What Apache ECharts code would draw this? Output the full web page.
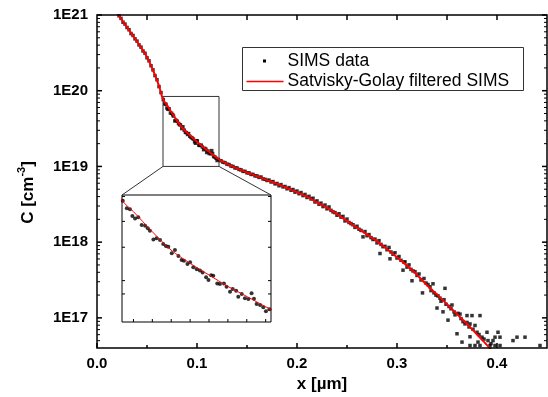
<!DOCTYPE html>
<html><head><meta charset="utf-8">
<script src="https://cdn.jsdelivr.net/npm/echarts@6/dist/echarts.min.js"></script>
<style>html,body{margin:0;padding:0;background:#fff}#c{width:548px;height:397px}</style>
</head><body><div id="c"></div>
<script>
// ---------- axis values ----------
const xRange = [0, 0.45];
const yRange = [4e16, 1.0000001e21];
const xTickLabels = [0, 0.1, 0.2, 0.3, 0.4];
const xMinorTicks = [0.05, 0.15, 0.25, 0.35];
const xTopTicks = [0.05, 0.1, 0.15, 0.2, 0.25, 0.3, 0.35, 0.4];
const yDecades = [1e17, 1e18, 1e19, 1e20, 1e21];
const yMinorTicks = [5e16, 6e16, 7e16, 8e16, 9e16,
  2e17, 3e17, 4e17, 5e17, 6e17, 7e17, 8e17, 9e17,
  2e18, 3e18, 4e18, 5e18, 6e18, 7e18, 8e18, 9e18,
  2e19, 3e19, 4e19, 5e19, 6e19, 7e19, 8e19, 9e19,
  2e20, 3e20, 4e20, 5e20, 6e20, 7e20, 8e20, 9e20];
// zoomed region shown in the inset
const zoomX = [0.066, 0.122];
const zoomY = [1e19, 8.4e19];
const insetXTicks = [0.0703, 0.0774, 0.0845, 0.0916, 0.0987, 0.1058, 0.1129, 0.12];
const insetYTicks = [1.6e19, 2e19, 3.5e19, 5.4e19, 8.2e19];

// ---------- data: [x (µm), log10 C] ----------
const simsPoints = [
[0.022,20.99],[0.024,20.955],[0.026,20.905],[0.028,20.88],[0.030,20.835],[0.032,20.805],[0.034,20.755],[0.036,20.73],
[0.038,20.685],[0.040,20.655],[0.042,20.605],[0.044,20.575],[0.046,20.525],[0.048,20.495],[0.050,20.435],[0.052,20.395],
[0.054,20.33],[0.056,20.275],[0.058,20.2],[0.060,20.145],[0.062,20.055],[0.064,19.975],
[0.0663,19.883],[0.0678,19.827],[0.0690,19.820],[0.0699,19.771],[0.0709,19.754],[0.0721,19.762],[0.0734,19.706],[0.0747,19.701],
[0.0757,19.682],[0.0765,19.665],[0.0778,19.601],[0.0790,19.609],[0.0803,19.597],[0.0815,19.568],[0.0825,19.553],[0.0834,19.548],
[0.0847,19.500],[0.0859,19.524],[0.0872,19.480],[0.0884,19.451],[0.0893,19.446],[0.0906,19.422],[0.0916,19.434],[0.0928,19.398],
[0.0941,19.383],[0.0953,19.374],[0.0963,19.361],[0.0976,19.325],[0.0985,19.306],[0.0995,19.340],[0.1003,19.337],[0.1018,19.281],
[0.1028,19.277],[0.1043,19.281],[0.1053,19.257],[0.1066,19.221],[0.1076,19.240],[0.1089,19.228],[0.1097,19.184],[0.1110,19.204],
[0.1122,19.172],[0.1135,19.167],[0.1147,19.209],[0.1156,19.170],[0.1166,19.131],[0.1179,19.124],[0.1191,19.107],[0.1201,19.078],
[0.1214,19.092],
[0.124,19.075],[0.126,19.055],[0.128,19.05],[0.130,19.03],[0.132,19.025],[0.134,19.005],[0.136,19.0],[0.138,18.98],
[0.140,18.98],[0.142,18.96],[0.144,18.955],[0.146,18.935],[0.148,18.935],[0.150,18.915],[0.152,18.915],[0.154,18.895],
[0.156,18.895],[0.158,18.875],[0.160,18.875],[0.162,18.855],[0.164,18.86],[0.166,18.835],[0.168,18.83],[0.170,18.815],
[0.172,18.82],[0.174,18.795],[0.176,18.8],[0.178,18.77],[0.180,18.775],[0.182,18.745],[0.184,18.76],[0.186,18.73],
[0.188,18.735],[0.190,18.705],[0.192,18.72],[0.194,18.685],[0.196,18.695],[0.198,18.66],[0.200,18.675],[0.202,18.64],
[0.204,18.655],[0.206,18.615],[0.208,18.63],[0.210,18.59],[0.212,18.605],[0.214,18.57],[0.216,18.58],[0.218,18.53],
[0.220,18.545],[0.222,18.50],[0.224,18.515],[0.226,18.47],[0.228,18.49],[0.230,18.44],[0.232,18.465],[0.234,18.42],
[0.236,18.40],[0.238,18.39],[0.240,18.355],[0.242,18.375],[0.244,18.33],[0.246,18.34],[0.248,18.28],[0.250,18.305],
[0.252,18.26],[0.254,18.245],[0.256,18.23],[0.258,18.195],[0.260,18.21],[0.262,18.17],[0.264,18.155],[0.266,18.07],
[0.268,18.14],[0.270,18.085],[0.272,18.10],[0.274,18.06],[0.276,18.035],[0.278,18.04],[0.280,17.99],[0.282,18.02],
[0.283,17.85],[0.284,17.97],[0.286,17.94],[0.288,17.945],[0.290,17.90],[0.292,17.93],[0.293,17.78],[0.294,17.87],
[0.296,17.84],[0.298,17.86],[0.300,17.79],[0.302,17.81],[0.304,17.76],[0.306,17.63],[0.307,17.735],[0.308,17.74],
[0.310,17.67],[0.312,17.70],[0.314,17.64],[0.315,17.49],[0.316,17.62],[0.318,17.61],
[0.320,17.56],[0.322,17.58],[0.324,17.50],[0.3255,17.33],[0.327,17.52],[0.329,17.46],[0.331,17.44],[0.333,17.41],
[0.334,17.36],[0.336,17.45],[0.337,17.33],[0.339,17.30],[0.340,17.13],[0.341,17.29],[0.343,17.26],[0.344,17.22],
[0.346,17.08],[0.347,17.24],[0.348,17.39],[0.349,17.18],[0.351,16.97],[0.352,17.15],[0.354,17.12],[0.355,17.17],
[0.357,17.08],[0.358,17.04],[0.360,16.79],[0.361,17.06],[0.363,17.05],[0.364,16.99],[0.365,16.68],[0.366,16.95],
[0.368,16.92],[0.370,17.03],[0.370,16.94],[0.372,16.88],[0.373,16.75],[0.373,16.92],[0.373,16.635],[0.375,17.03],
[0.376,16.85],[0.378,16.90],[0.378,16.635],[0.380,16.81],[0.381,16.68],[0.382,16.78],[0.383,17.03],[0.383,16.635],
[0.385,16.745],[0.387,16.72],[0.390,16.81],[0.391,16.70],[0.393,16.635],[0.394,16.66],[0.396,16.70],[0.398,16.745],
[0.398,16.635],[0.401,16.81],[0.403,16.745],[0.403,16.635],[0.416,16.70],[0.420,16.745],[0.428,16.745],[0.443,16.635]
];
const filteredPoints = [
[0.020,21.03],[0.025,20.93],[0.030,20.84],[0.035,20.745],[0.040,20.65],[0.044,20.57],[0.048,20.49],[0.052,20.39],
[0.056,20.27],[0.060,20.14],[0.063,20.02],[0.0659,19.888],[0.0703,19.803],[0.0774,19.657],[0.0844,19.524],[0.0916,19.427],
[0.0987,19.342],[0.1060,19.257],[0.1131,19.184],[0.1220,19.092],[0.130,19.035],[0.140,18.975],[0.150,18.92],[0.160,18.87],
[0.170,18.82],[0.180,18.77],[0.190,18.715],[0.200,18.66],[0.210,18.60],[0.220,18.525],[0.230,18.455],[0.240,18.37],
[0.250,18.28],[0.260,18.19],[0.270,18.10],[0.280,18.01],[0.290,17.91],[0.300,17.80],[0.310,17.69],[0.320,17.57],
[0.330,17.43],[0.340,17.31],[0.350,17.18],[0.360,17.05],[0.370,16.92],[0.380,16.78],[0.390,16.64],[0.396,16.55]
];
const seriesNames = ['SIMS data', 'Satvisky-Golay filtered SIMS'];

// ---------- build ----------
const toConc = p => [p[0], Math.pow(10, p[1])];
const simsData = simsPoints.map(toConc);
const filtData = filteredPoints.map(toConc);
const boxData = [[zoomX[0], zoomY[0]], [zoomX[0], zoomY[1]], [zoomX[1], zoomY[1]], [zoomX[1], zoomY[0]], [zoomX[0], zoomY[0]]];

const FONT = '"Liberation Sans", Arial, sans-serif';
const BLACK = '#000';

// tick marks drawn through the axes' scales (custom series)
function tickSeries(xi, yi, items, dx, dy, width, z) {
  return {
    type: 'custom', coordinateSystem: 'cartesian2d', xAxisIndex: xi, yAxisIndex: yi,
    data: items, silent: true, z: z, clip: false,
    renderItem: (params, api) => {
      const p = api.coord([api.value(0), api.value(1)]);
      return { type: 'line', shape: { x1: p[0], y1: p[1], x2: p[0] + dx, y2: p[1] + dy },
        style: { stroke: BLACK, lineWidth: width } };
    }
  };
}
const atBottom = (vals, y) => vals.map(v => [v, y]);
const atSide = (vals, x) => vals.map(v => [x, v]);

const chart = echarts.init(document.getElementById('c'), null, { renderer: 'canvas' });
const option = {
  animation: false,
  backgroundColor: '#fff',
  textStyle: { fontFamily: FONT },
  grid: [
    { left: 97, top: 15, width: 450, height: 333, show: false, outerBoundsMode: 'none', containLabel: false },
    { left: 122, top: 195, width: 149, height: 127, show: true, borderColor: BLACK, borderWidth: 1,
      backgroundColor: '#fff', z: 5, outerBoundsMode: 'none', containLabel: false }
  ],
  xAxis: [
    { gridIndex: 0, type: 'value', min: xRange[0], max: xRange[1],
      splitLine: { show: false }, axisLine: { show: false }, axisTick: { show: false },
      axisLabel: { customValues: xTickLabels, formatter: v => v.toFixed(1), color: BLACK,
        fontWeight: 'bold', fontSize: 15, fontFamily: FONT, margin: 8, showMinLabel: true, showMaxLabel: true },
      name: 'x [µm]', nameLocation: 'middle', nameGap: 25,
      nameTextStyle: { color: BLACK, fontWeight: 'bold', fontSize: 17, fontFamily: FONT } },
    { gridIndex: 1, type: 'value', min: zoomX[0], max: zoomX[1],
      splitLine: { show: false }, axisLine: { show: false }, axisTick: { show: false }, axisLabel: { show: false } }
  ],
  yAxis: [
    { gridIndex: 0, type: 'log', logBase: 10, min: yRange[0], max: yRange[1],
      splitLine: { show: false }, axisLine: { show: false }, axisTick: { show: false },
      axisLabel: { customValues: yDecades, formatter: v => '1E' + Math.round(Math.log10(v)),
        color: BLACK, fontWeight: 'bold', fontSize: 15, fontFamily: FONT, margin: 9, showMinLabel: true, showMaxLabel: true },
      name: 'C [cm{sup|-3}]', nameLocation: 'middle', nameGap: 57,
      nameTextStyle: { color: BLACK, fontWeight: 'bold', fontSize: 17, fontFamily: FONT, lineHeight: 24,
        padding: [0, 22, 0, 0],
        rich: { sup: { fontSize: 11, fontWeight: 'bold', fontFamily: FONT, color: BLACK, verticalAlign: 'top', lineHeight: 24 } } } },
    { gridIndex: 1, type: 'log', logBase: 10, min: zoomY[0], max: zoomY[1],
      splitLine: { show: false }, axisLine: { show: false }, axisTick: { show: false }, axisLabel: { show: false } }
  ],
  series: [
    { name: seriesNames[0], type: 'scatter', xAxisIndex: 0, yAxisIndex: 0, data: simsData,
      symbol: 'rect', symbolSize: 3.5, itemStyle: { color: BLACK }, silent: true, z: 2 },
    { name: seriesNames[1], type: 'line', xAxisIndex: 0, yAxisIndex: 0, data: filtData,
      showSymbol: false, symbol: 'none', smooth: 0.3, lineStyle: { color: '#ff0000', width: 2 }, silent: true, z: 3 },
    { name: 'zoom box', type: 'line', xAxisIndex: 0, yAxisIndex: 0, data: boxData,
      symbol: 'none', lineStyle: { color: '#333', width: 1 }, silent: true, z: 1 },
    { name: 'inset SIMS', type: 'scatter', xAxisIndex: 1, yAxisIndex: 1, data: simsData,
      symbol: 'circle', symbolSize: 4, itemStyle: { color: BLACK }, silent: true, z: 6 },
    { name: 'inset filtered', type: 'line', xAxisIndex: 1, yAxisIndex: 1, data: filtData,
      symbol: 'none', smooth: 0.3, lineStyle: { color: '#ff0000', width: 1 }, silent: true, z: 7 },
    // main plot ticks (all pointing inward)
    tickSeries(0, 0, atBottom(xTickLabels, yRange[0]), 0, -5, 1.5, 4),
    tickSeries(0, 0, atBottom(xMinorTicks, yRange[0]), 0, -3, 1.5, 4),
    tickSeries(0, 0, atBottom(xTopTicks, yDecades[4]), 0, 5, 1.5, 4),
    tickSeries(0, 0, atSide(yDecades, xRange[0]), 5, 0, 1.5, 4),
    tickSeries(0, 0, atSide(yMinorTicks, xRange[0]), 3, 0, 1, 4),
    tickSeries(0, 0, atSide(yDecades, xRange[1]), -5, 0, 1.5, 4),
    tickSeries(0, 0, atSide(yMinorTicks, xRange[1]), -3, 0, 1, 4),
    // inset ticks
    tickSeries(1, 1, atBottom(insetXTicks, zoomY[0]), 0, -3, 1, 8),
    tickSeries(1, 1, atSide(insetYTicks, zoomX[0]), 3, 0, 1, 8),
    tickSeries(1, 1, atSide(insetYTicks, zoomX[1]), -3, 0, 1, 8)
  ]
};
chart.setOption(option);

// frame, connector lines (zoom box corners -> inset corners) and legend box
const f0 = chart.convertToPixel({ seriesIndex: 0 }, [xRange[0], yRange[1]]);
const f1 = chart.convertToPixel({ seriesIndex: 0 }, [xRange[1], yRange[0]]);
const a1 = chart.convertToPixel({ seriesIndex: 0 }, [zoomX[0], zoomY[0]]);
const a2 = chart.convertToPixel({ seriesIndex: 0 }, [zoomX[1], zoomY[0]]);
const b1 = chart.convertToPixel({ seriesIndex: 3 }, [zoomX[0], zoomY[1]]);
const b2 = chart.convertToPixel({ seriesIndex: 3 }, [zoomX[1], zoomY[1]]);
chart.setOption({
  graphic: [
    { type: 'rect', shape: { x: f0[0], y: f0[1], width: f1[0] - f0[0], height: f1[1] - f0[1] },
      style: { fill: 'none', stroke: BLACK, lineWidth: 1.5 }, z: 9, silent: true },
    { type: 'line', shape: { x1: a1[0], y1: a1[1], x2: b1[0], y2: b1[1] }, style: { stroke: '#333', lineWidth: 1 }, z: 10, silent: true },
    { type: 'line', shape: { x1: a2[0], y1: a2[1], x2: b2[0], y2: b2[1] }, style: { stroke: '#333', lineWidth: 1 }, z: 10, silent: true },
    { type: 'group', left: 242, top: 47, z: 20, silent: true, children: [
      { type: 'rect', shape: { x: 0, y: 0, width: 281, height: 43 }, style: { fill: '#fff', stroke: '#333', lineWidth: 1 } },
      { type: 'rect', shape: { x: 20.5, y: 12, width: 3, height: 3 }, style: { fill: BLACK } },
      { type: 'line', shape: { x1: 4, y1: 34, x2: 41, y2: 34 }, style: { stroke: '#ff0000', lineWidth: 1.5 } },
      { type: 'text', x: 45, y: 13.5, style: { text: seriesNames[0], fill: BLACK, font: '17.5px ' + FONT, verticalAlign: 'middle' } },
      { type: 'text', x: 45, y: 34, style: { text: seriesNames[1], fill: BLACK, font: '17.5px ' + FONT, verticalAlign: 'middle' } }
    ] }
  ]
});
</script></body></html>
